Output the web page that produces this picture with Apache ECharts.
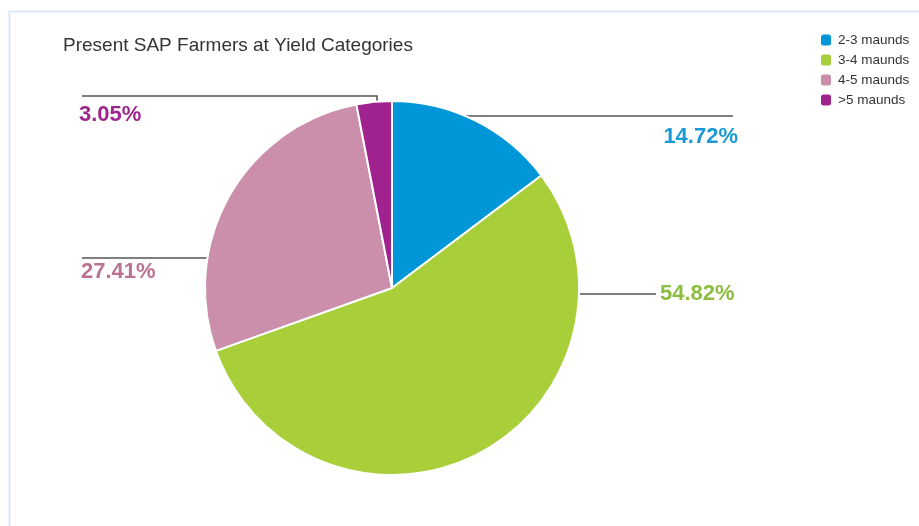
<!DOCTYPE html>
<html>
<head>
<meta charset="utf-8">
<script src="https://cdn.jsdelivr.net/npm/echarts@6/dist/echarts.min.js"></script>
<style>
  html, body { margin: 0; padding: 0; background: #fff; }
  #chart { width: 919px; height: 526px; }
</style>
</head>
<body>
<div id="chart"></div>
<script>
// Share of present SAP farmers by yield category (percent)
const categories = ['2-3 maunds', '3-4 maunds', '4-5 maunds', '>5 maunds'];
const shares = [14.72, 54.82, 27.41, 3.05];
const sliceColors = ['#0096d8', '#a8cf3a', '#cb8fac', '#a0228e'];
const labelColors = ['#1b99d6', '#8cbd3f', '#b9728f', '#a0268f'];

// Pie geometry (pixels)
const cx = 392, cy = 288, radius = 187;

// Callout placement for each slice: the leader runs horizontally at lineY
// from the pie rim out to lineEnd; the text sits at (tx, ty).
const callouts = [
  { lineY: 116, lineEnd: 733, tx: 738, ty: 137, align: 'right' },
  { lineY: 294, lineEnd: 656, tx: 660, ty: 294, align: 'left' },
  { lineY: 258, lineEnd: 82,  tx: 81,  ty: 272, align: 'left' },
  { lineY: 96,  lineEnd: 82,  tx: 79,  ty: 115, align: 'left', dropX: 377 }
];

function rimX(y, side) {
  const dy = y - cy;
  return cx + side * Math.sqrt(Math.max(0, radius * radius - dy * dy));
}
function rimY(x) {
  const dx = x - cx;
  return cy - Math.sqrt(Math.max(0, radius * radius - dx * dx));
}

const chart = echarts.init(document.getElementById('chart'));

const option = {
  backgroundColor: '#ffffff',
  animation: false,
  textStyle: { fontFamily: 'Liberation Sans, Arial, sans-serif' },
  title: {
    text: 'Present SAP Farmers at Yield Categories',
    left: 58,
    top: 31,
    textStyle: { fontSize: 19, fontWeight: 'normal', color: '#333333' }
  },
  legend: {
    orient: 'vertical',
    left: 821,
    top: 33,
    padding: 0,
    icon: 'roundRect',
    itemWidth: 10,
    itemHeight: 11,
    itemGap: 6,
    itemStyle: { borderWidth: 0 },
    textStyle: { fontSize: 13.5, lineHeight: 14, color: '#333333', padding: [0, 0, 0, 2] },
    data: categories
  },
  graphic: [{
    type: 'rect',
    silent: true,
    shape: { x: 9.5, y: 11.5, width: 1000, height: 600 },
    style: { fill: 'none', stroke: '#dbe8f3', lineWidth: 2 }
  }],
  series: [{
    type: 'pie',
    center: [cx, cy],
    radius: radius,
    startAngle: 90,
    clockwise: true,
    avoidLabelOverlap: false,
    itemStyle: { borderColor: '#ffffff', borderWidth: 2 },
    label: {
      show: true,
      position: 'outside',
      formatter: p => p.value.toFixed(2) + '%',
      fontSize: 22,
      fontWeight: 'bold'
    },
    labelLine: {
      show: true,
      lineStyle: { color: '#555555', width: 1.6 }
    },
    labelLayout: function (params) {
      const c = callouts[params.dataIndex];
      let pts;
      if (c.dropX !== undefined) {
        pts = [[c.dropX, rimY(c.dropX)], [c.dropX, c.lineY], [c.lineEnd, c.lineY]];
      } else {
        const side = c.lineEnd > cx ? 1 : -1;
        const start = [rimX(c.lineY, side), c.lineY];
        pts = [start, start, [c.lineEnd, c.lineY]];
      }
      return {
        x: c.tx,
        y: c.ty,
        align: c.align,
        verticalAlign: 'middle',
        labelLinePoints: pts
      };
    },
    emphasis: { disabled: true },
    data: categories.map((name, i) => ({
      name: name,
      value: shares[i],
      itemStyle: { color: sliceColors[i] },
      label: { color: labelColors[i] }
    }))
  }]
};

chart.setOption(option);
</script>
</body>
</html>
